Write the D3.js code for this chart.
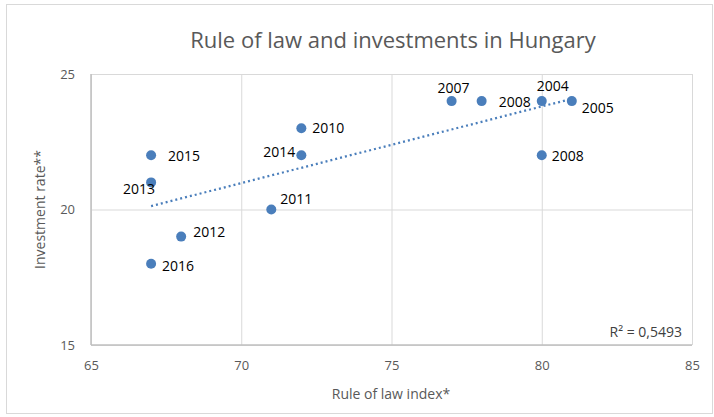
<!DOCTYPE html>
<html>
<head>
<meta charset="utf-8">
<script src="https://cdn.jsdelivr.net/npm/d3@7"></script>
<style>
  body { margin: 0; background: #fff; }
  text { font-family: "Open Sans", sans-serif; }
</style>
</head>
<body>
<svg id="chart"></svg>
<script>
const width = 714;
const height = 417;

// values
const ruleOfLaw = [67, 67, 67, 68, 71, 72, 72, 77, 78, 80, 81, 80];
const investment = [22, 21, 18, 19, 20, 23, 22, 24, 24, 24, 24, 22];
const years = ["2015", "2013", "2016", "2012", "2011", "2010", "2014", "2007", "2008", "2004", "2005", "2008"];
const xTicks = [65, 70, 75, 80, 85];
const yTicks = [15, 20, 25];
const rSquared = "R² = 0,5493";

// where each data label sits relative to its point (px)
const labelOffset = [[17, 6], [-28, 12], [11, 7], [12, 0], [9, -6], [11, 5], [-38, 2], [-14, -8], [17, 6], [-5, -10], [10, 12], [10, 6]];

const blue = "#4a7ebb";

const x = d3.scaleLinear()
  .domain([65, 85])
  .range([91, 692]);

const y = d3.scaleLinear()
  .domain([15, 25])
  .range([345, 74]);

const svg = d3.select("#chart")
  .attr("width", width)
  .attr("height", height);

// chart border
svg.append("rect")
  .attr("x", 6.5).attr("y", 4.5)
  .attr("width", 706).attr("height", 409)
  .attr("fill", "#fff")
  .attr("stroke", "#d9d9d9");

// gridlines
svg.append("g")
  .attr("transform", `translate(0,${y(15)})`)
  .call(d3.axisBottom(x).tickValues(xTicks).tickSize(-(y(15) - y(25))).tickFormat(""))
  .call(g => g.select(".domain").remove())
  .call(g => g.selectAll("line").attr("stroke", "#d9d9d9"));

svg.append("g")
  .attr("transform", `translate(${x(65)},0)`)
  .call(d3.axisLeft(y).tickValues(yTicks).tickSize(-(x(85) - x(65))).tickFormat(""))
  .call(g => g.select(".domain").remove())
  .call(g => g.selectAll("line").attr("stroke", "#d9d9d9"));

// axis lines
svg.append("line")
  .attr("x1", x(65)).attr("x2", x(85))
  .attr("y1", y(15)).attr("y2", y(15))
  .attr("stroke", "#bfbfbf").attr("stroke-width", 1.5);
svg.append("line")
  .attr("x1", x(65)).attr("x2", x(65))
  .attr("y1", y(15)).attr("y2", y(25))
  .attr("stroke", "#bfbfbf").attr("stroke-width", 1.5);

// tick labels
svg.append("g")
  .attr("transform", `translate(0,${y(15)})`)
  .call(d3.axisBottom(x).tickValues(xTicks).tickSize(0).tickPadding(16))
  .call(g => g.select(".domain").remove())
  .call(g => g.selectAll("text")
    .attr("fill", "#595959")
    .style("font-size", "13px")
    .style("font-family", "Open Sans"));

svg.append("g")
  .attr("transform", `translate(${x(65)},0)`)
  .call(d3.axisLeft(y).tickValues(yTicks).tickSize(0).tickPadding(16))
  .call(g => g.select(".domain").remove())
  .call(g => g.selectAll("text")
    .attr("fill", "#595959")
    .style("font-size", "13px")
    .style("font-family", "Open Sans"));

// linear trendline (least squares on the points)
const n = ruleOfLaw.length;
const mx = d3.mean(ruleOfLaw);
const my = d3.mean(investment);
let sxy = 0, sxx = 0;
for (let i = 0; i < n; i++) {
  sxy += (ruleOfLaw[i] - mx) * (investment[i] - my);
  sxx += (ruleOfLaw[i] - mx) ** 2;
}
const slope = sxy / sxx;
const intercept = my - slope * mx;
const [x0, x1] = d3.extent(ruleOfLaw);

svg.append("line")
  .attr("x1", x(x0)).attr("y1", y(intercept + slope * x0))
  .attr("x2", x(x1)).attr("y2", y(intercept + slope * x1))
  .attr("stroke", blue)
  .attr("stroke-width", 2.25)
  .attr("stroke-dasharray", "2 3");

// points
const points = ruleOfLaw.map((d, i) => ({ x: d, y: investment[i], year: years[i], off: labelOffset[i] }));

svg.append("g")
  .selectAll("circle")
  .data(points)
  .join("circle")
  .attr("cx", d => x(d.x))
  .attr("cy", d => y(d.y))
  .attr("r", 5)
  .attr("fill", blue);

svg.append("g")
  .selectAll("text")
  .data(points)
  .join("text")
  .attr("x", d => x(d.x) + d.off[0])
  .attr("y", d => y(d.y) + d.off[1])
  .text(d => d.year)
  .attr("fill", "#000")
  .style("font-size", "14px");

// R² label
svg.append("text")
  .attr("x", 682)
  .attr("y", 337)
  .attr("text-anchor", "end")
  .attr("fill", "#404040")
  .style("font-size", "14px")
  .text(rSquared);

// title
svg.append("text")
  .attr("x", 393)
  .attr("y", 48)
  .attr("text-anchor", "middle")
  .attr("fill", "#595959")
  .style("font-size", "22px")
  .text("Rule of law and investments in Hungary");

// axis titles
svg.append("text")
  .attr("x", 391)
  .attr("y", 399)
  .attr("text-anchor", "middle")
  .attr("fill", "#595959")
  .style("font-size", "14px")
  .text("Rule of law index*");

svg.append("text")
  .attr("transform", `translate(45,${y(20)}) rotate(-90)`)
  .attr("text-anchor", "middle")
  .attr("fill", "#595959")
  .style("font-size", "14px")
  .text("Investment rate**");
</script>
</body>
</html>
